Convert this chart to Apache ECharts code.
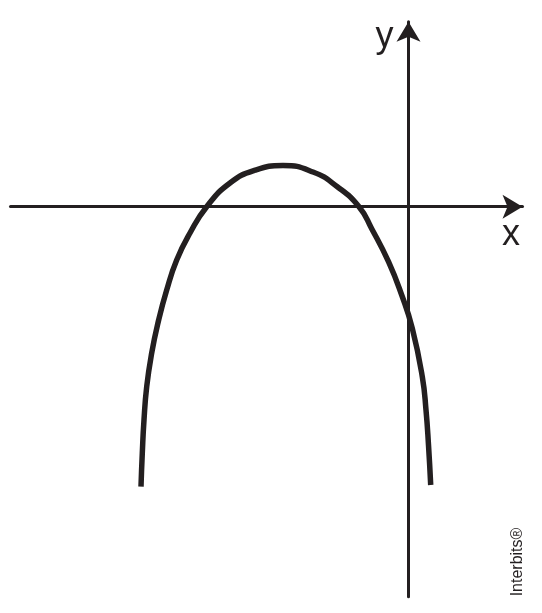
<!DOCTYPE html>
<html>
<head>
<meta charset="utf-8">
<script src="https://cdn.jsdelivr.net/npm/echarts@6/dist/echarts.min.js"></script>
<style>
html,body{margin:0;padding:0;background:#fff;}
#chart{width:542px;height:613px;}
</style>
</head>
<body>
<div id="chart"></div>
<script>
// Curve points (x, y in axis units; origin where the axes cross)
var curveX = [-26.75, -26.62, -26.45, -26.18, -25.68, -25.02, -24.18, -23.18, -21.85, -20.18, -17.85, -15.35, -12.55, -9.55, -7.15, -4.95, -3.68, -2.0, -0.68, 0.38, 1.38, 1.75, 2.0, 2.22];
var curveY = [-28.0, -24.63, -21.33, -18.0, -14.63, -11.48, -8.33, -5.33, -2.63, 0, 2.37, 3.65, 4.12, 3.47, 2.02, 0, -2.2, -5.5, -8.83, -12.16, -17.0, -20.33, -23.83, -27.83];
// Axis extents
var xRange = [-39.8, 11.4];
var yRange = [-39.0, 18.5];
var axisNames = ['x', 'y'];
var credit = 'Interbits®';

var ink = '#231f20';
var data = curveX.map(function (x, i) { return [x, curveY[i]]; });

var chart = echarts.init(document.getElementById('chart'));
chart.setOption({
  animation: false,
  backgroundColor: '#ffffff',
  grid: { left: 10.5, right: 19.5, top: 21.7, bottom: 16.3 },
  xAxis: {
    type: 'value', min: xRange[0], max: xRange[1],
    name: axisNames[0], nameLocation: 'end', nameGap: -11.5,
    nameTextStyle: { fontFamily: 'Liberation Sans, Arial, sans-serif', fontSize: 36, color: ink, align: 'center', verticalAlign: 'top', padding: [10, 0, 0, 0] },
    axisLine: { onZero: true, symbol: ['none', 'arrow'], symbolSize: [18, 20], lineStyle: { color: ink, width: 3 } },
    axisTick: { show: false }, axisLabel: { show: false }, splitLine: { show: false }
  },
  yAxis: {
    type: 'value', min: yRange[0], max: yRange[1],
    name: axisNames[1], nameLocation: 'end', nameGap: -15.5,
    nameTextStyle: { fontFamily: 'Liberation Sans, Arial, sans-serif', fontSize: 36, color: ink, align: 'right', verticalAlign: 'middle', padding: [0, 15, 0, 0] },
    axisLine: { onZero: true, symbol: ['none', 'arrow'], symbolSize: [18, 20], lineStyle: { color: ink, width: 3 } },
    axisTick: { show: false }, axisLabel: { show: false }, splitLine: { show: false }
  },
  graphic: [{
    type: 'text', x: 518, y: 562, rotation: Math.PI / 2,
    style: { text: credit, fontFamily: 'Liberation Sans, Arial, sans-serif', fontSize: 16, fill: ink, align: 'center', verticalAlign: 'middle' }
  }],
  series: [{
    type: 'line', data: data, smooth: 0.5, showSymbol: false, silent: true,
    lineStyle: { color: ink, width: 5.5, cap: 'butt' }
  }]
});
</script>
</body>
</html>
